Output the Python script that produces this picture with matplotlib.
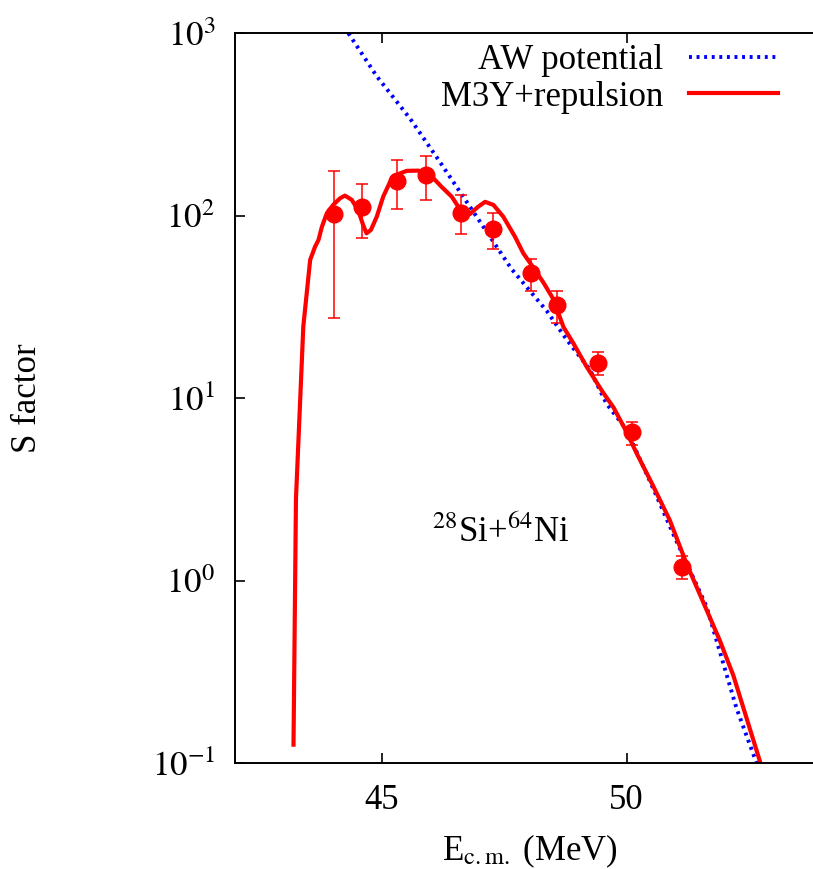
import matplotlib
matplotlib.use("Agg")
import matplotlib.pyplot as plt
from matplotlib.ticker import NullLocator, FixedLocator

plt.rcParams['font.family'] = ['Liberation Serif', 'DejaVu Serif']
plt.rcParams['mathtext.fontset'] = 'stix'

# experimental points: E (MeV), S, lower / upper error limits
e_exp = [44.03, 44.60, 45.32, 45.90, 46.61, 47.28, 48.04, 48.58, 49.42, 50.10, 51.12]
s_exp = [102, 112, 155, 167, 104, 84.6, 48.3, 32.5, 15.6, 6.5, 1.19]
s_lo = [27.6, 75.2, 108.8, 121.8, 79.6, 65.9, 38.6, 25.9, 13.3, 5.5, 1.02]
s_hi = [176, 149, 202, 211, 129, 103, 57.7, 38.8, 17.9, 7.4, 1.37]

# M3Y+repulsion curve
e_m3y = [43.20, 43.25, 43.40, 43.47, 43.54, 43.64, 43.71, 43.78, 43.88, 44.01,
         44.15, 44.25, 44.39, 44.52, 44.62, 44.69, 44.78, 44.90, 45.03, 45.17,
         45.34, 45.51, 45.75, 46.02, 46.22, 46.43, 46.63, 46.80, 46.97, 47.11,
         47.28, 47.48, 47.72, 47.89, 48.03, 48.30, 48.50, 48.71, 48.91, 49.18,
         49.52, 49.73, 50.00, 50.20, 50.41, 50.54, 50.88, 51.22, 51.90, 52.18,
         52.72]
s_m3y = [0.126, 2.8, 24.7, 37.6, 57.2, 67.6, 73.6, 87, 103, 114.5,
         124.5, 128.8, 122, 107, 89, 80, 83.5, 98.8, 127, 153,
         169, 176, 176.5, 164, 144, 127, 105, 102, 112, 119,
         114.5, 98.8, 76.7, 62.2, 55, 43, 35, 24.5, 20, 14.9,
         10.7, 8.9, 6.5, 5.0, 3.87, 3.3, 2.14, 1.24, 0.47, 0.30,
         0.102]

# AW potential curve
e_aw = [44.32, 44.90, 45.58, 46.16, 46.80, 47.65, 48.37, 48.77, 49.25, 49.59,
        50.00, 50.54, 50.95, 51.63, 52.24, 52.65]
s_aw = [1000, 580, 340, 202, 112, 51, 30, 21, 14.3, 9.3,
        6.7, 3.2, 1.8, 0.72, 0.20, 0.10]

fig = plt.figure(figsize=(8.13, 8.69), dpi=100)
ax = fig.add_axes([0.2887, 0.122, 0.7232, 0.8398])

ax.plot(e_aw, s_aw, color='#0000ff', lw=2.8, linestyle=(0, (0.75, 1.2)),
        label='AW potential')
ax.plot(e_m3y, s_m3y, color='#ff0000', lw=3, label='M3Y+repulsion')
yerr = [[s - l for s, l in zip(s_exp, s_lo)], [h - s for s, h in zip(s_exp, s_hi)]]
ax.errorbar(e_exp, s_exp, yerr=yerr, fmt='o', color='#ff0000', ms=12,
            elinewidth=1.1, capsize=4, capthick=1.1)

ax.set_yscale('log')
ax.set_xlim(42, 54)
ax.set_ylim(0.1, 1000)
ax.xaxis.set_major_locator(FixedLocator([45, 50]))
ax.xaxis.set_minor_locator(NullLocator())
ax.set_yticks([0.1, 1, 10, 100, 1000])
ax.set_yticklabels([r'$10^{-1}$', r'$10^{0}$', r'$10^{1}$', r'$10^{2}$', r'$10^{3}$'])
ax.yaxis.set_minor_locator(NullLocator())
ax.tick_params(which='both', direction='in', top=True, right=True,
               length=7, width=1.2, labelsize=25)
ax.tick_params(axis='y', pad=14)
ax.tick_params(axis='x', pad=15)
for sp in ax.spines.values():
    sp.set_linewidth(1.4)

ax.set_ylabel('S factor', fontsize=25)
ax.yaxis.set_label_coords(-0.325, 0.5)
ax.text(0.502, -0.133, r'E$_{\rm c.m.}$ (MeV)', transform=ax.transAxes,
        ha='center', va='baseline', fontsize=25)
ax.text(0.335, 0.303, r'$^{28}$Si+$^{64}$Ni', transform=ax.transAxes,
        ha='left', va='baseline', fontsize=25)

ax.legend(loc='upper right', bbox_to_anchor=(0.924, 0.985), frameon=False,
          markerfirst=False, fontsize=25, handlelength=2.55, handletextpad=0.75,
          labelspacing=0.1, borderpad=0, borderaxespad=0)

fig.savefig('out.png', dpi=100)
